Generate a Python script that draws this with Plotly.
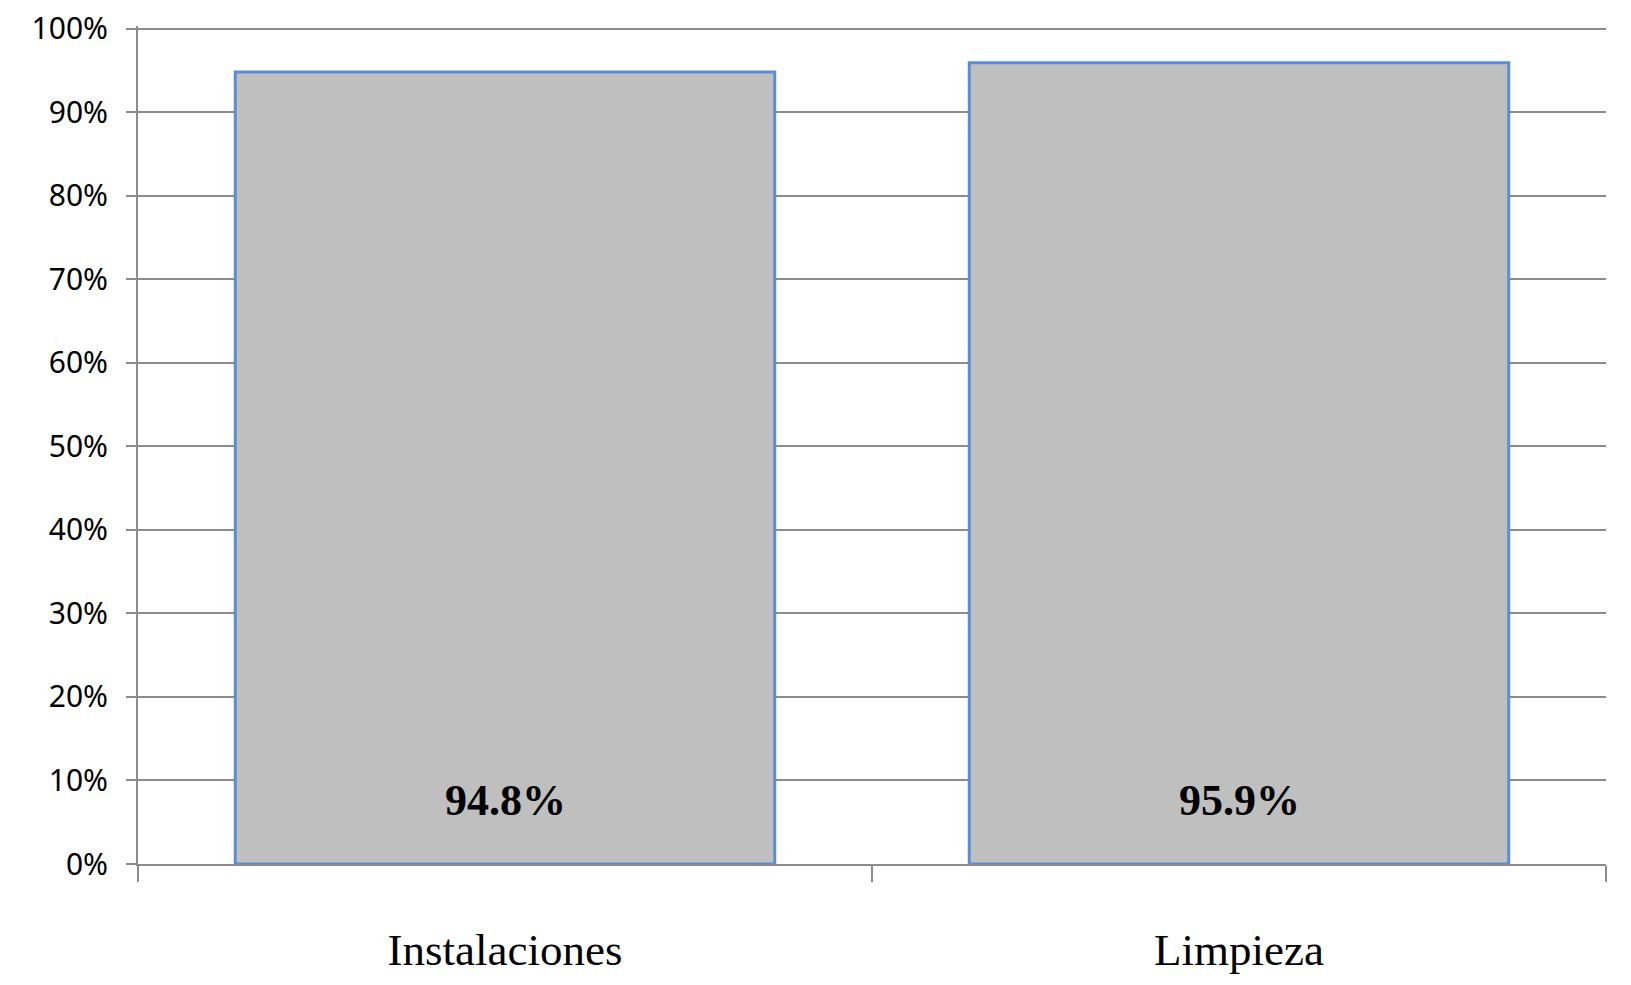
import plotly.graph_objects as go

categories = ["Instalaciones", "Limpieza"]
values = [94.8, 95.9]
labels = ["94.8%", "95.9%"]
y_ticks = [0, 10, 20, 30, 40, 50, 60, 70, 80, 90, 100]
y_tick_text = [f"{v}%" for v in y_ticks]

fig = go.Figure()
fig.add_trace(go.Bar(
    x=categories, y=values, width=0.735,
    marker=dict(color="#BFBFBF", line=dict(color="#5B8DD6", width=3)),
    hoverinfo="skip",
))
for c, t in zip(categories, labels):
    fig.add_annotation(x=c, y=0, xref="x", yref="y", text=f"<b>{t}</b>",
                       showarrow=False, yanchor="bottom", yshift=37,
                       font=dict(family="Liberation Serif", size=44, color="#000"))

fig.update_layout(
    width=1623, height=977,
    margin=dict(l=130, r=25, t=18, b=121),
    plot_bgcolor="white", paper_bgcolor="white",
    showlegend=False,
    xaxis=dict(
        range=[-0.5, 1.5], tickson="boundaries", ticks="outside", ticklen=16,
        tickcolor="#8C8C8C", tickwidth=2, showline=True, linecolor="#8C8C8C",
        linewidth=2, showgrid=False, zeroline=False, automargin=False,
        tickfont=dict(family="Liberation Serif", size=45, color="#000"),
        ticklabelstandoff=45,
    ),
    yaxis=dict(
        range=[0, 100.3], tickvals=y_ticks, ticktext=y_tick_text,
        ticks="outside", ticklen=10, tickcolor="#8C8C8C", tickwidth=2,
        showline=True, linecolor="#8C8C8C", linewidth=2, automargin=False,
        showgrid=True, gridcolor="#8C8C8C", gridwidth=1.5, zeroline=False,
        tickfont=dict(family="Noto Sans", size=30, color="#000"),
        ticklabelstandoff=12, ticklabeloverflow="allow",
    ),
)
fig.write_html("out.html")
